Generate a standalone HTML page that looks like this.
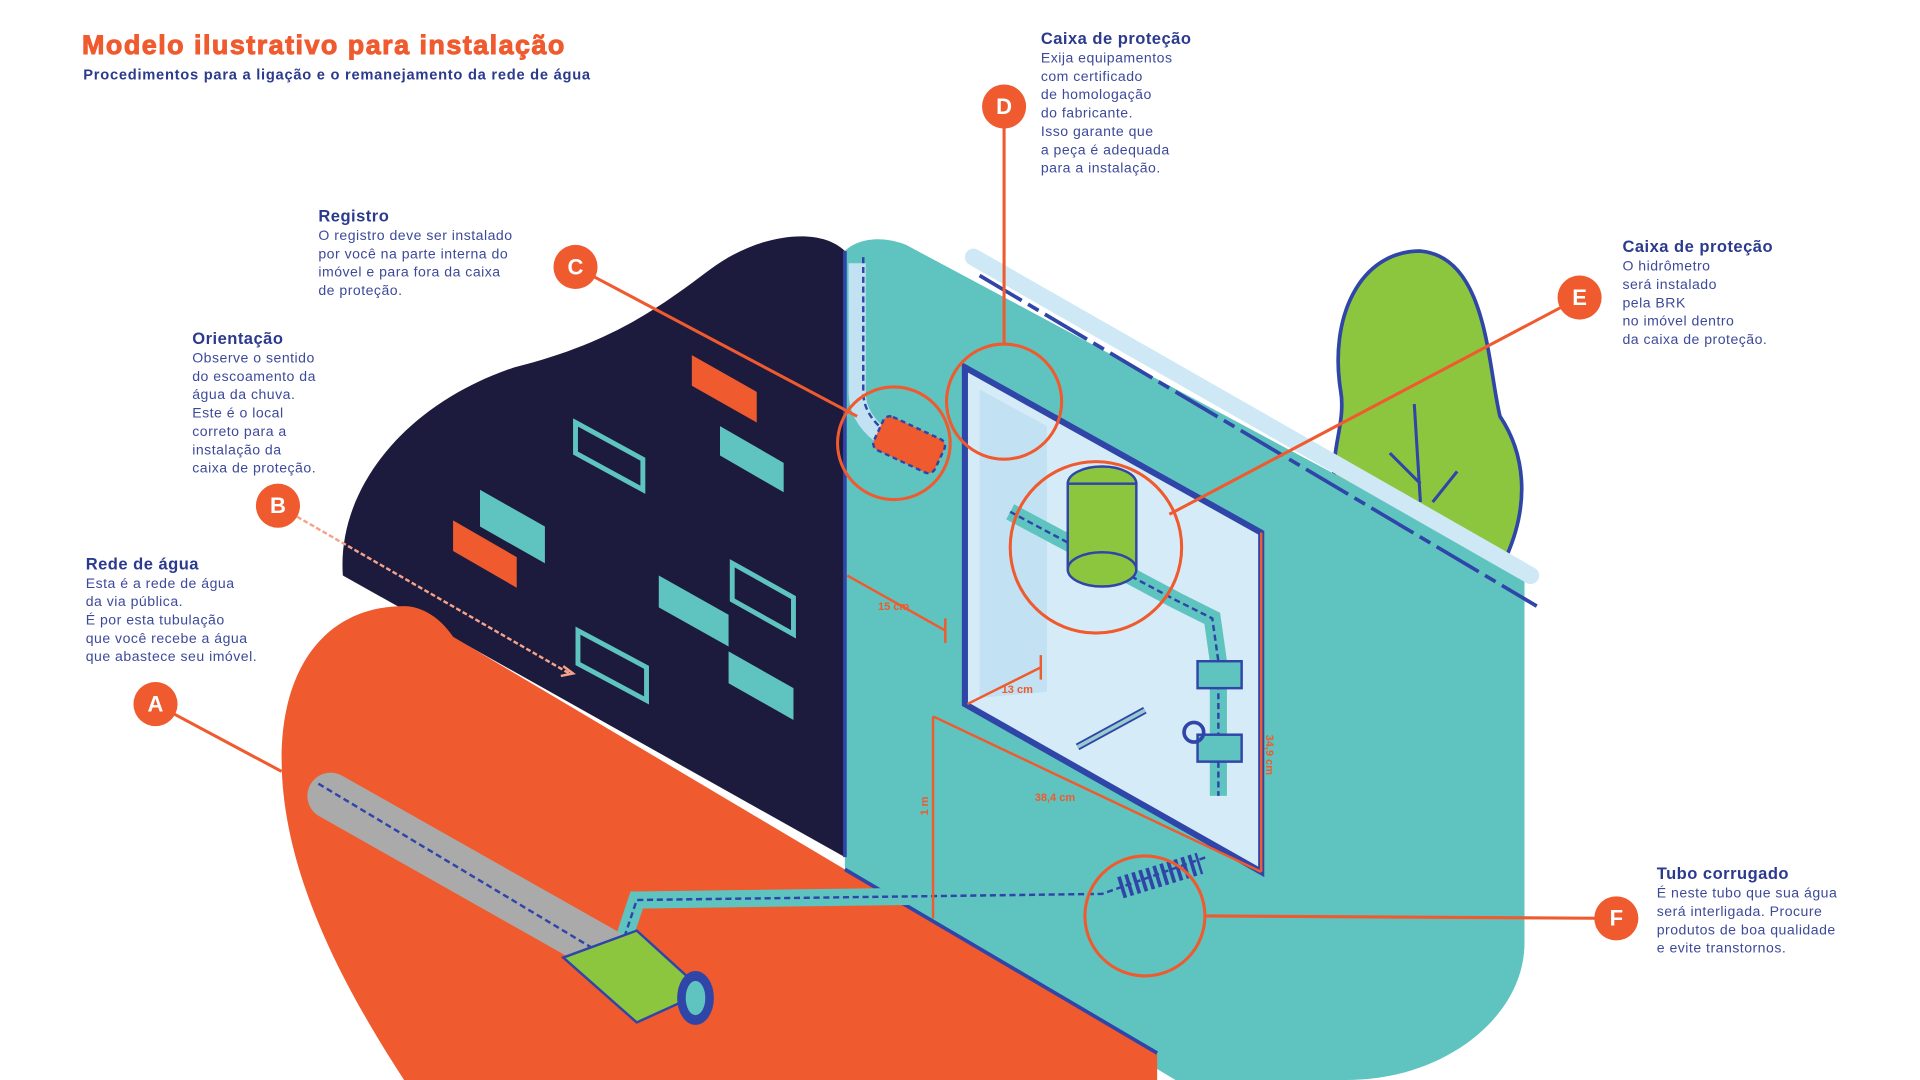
<!DOCTYPE html>
<html><head><meta charset="utf-8"><style>
html,body{margin:0;padding:0;background:#fff;width:1920px;height:1080px;overflow:hidden}
svg{display:block}
text{font-family:"Liberation Sans",sans-serif}
.h{fill:#2b3a8f;font-weight:bold;font-size:13.5px;letter-spacing:0.4px}
.t{fill:#3d4a9a;font-size:11.5px;letter-spacing:0.4px}
.lbl{fill:#fff;font-weight:bold;font-size:18px;text-anchor:middle}
.ln{stroke:#ef5a2e;stroke-width:2.5;fill:none}
.dash{stroke:#2f45a8;stroke-width:2;stroke-dasharray:5 3;fill:none}
</style></head><body>
<svg width="1920" height="1080" viewBox="0 0 1568 882" preserveAspectRatio="none">
<rect width="1568" height="882" fill="#fff"/>
<!-- title -->
<text x="67" y="44" fill="#ef5a2e" font-weight="bold" font-size="22" letter-spacing="1.2" stroke="#ef5a2e" stroke-width="0.8">Modelo ilustrativo para instalação</text>
<text x="68" y="65" fill="#2b3a8f" font-size="12" font-weight="bold" letter-spacing="0.6">Procedimentos para a ligação e o remanejamento da rede de água</text>

<!-- tree -->
<path d="M1160 205 C1110 205 1085 260 1095 320 C1100 350 1080 380 1095 410 L1230 455 C1250 410 1245 370 1225 340 C1215 300 1215 210 1160 205Z" fill="#8cc63f" stroke="#2f45a8" stroke-width="3"/>
<path d="M1155 330 L1160 410 M1135 370 L1160 395 M1190 385 L1170 410" stroke="#2f45a8" stroke-width="2.5" fill="none"/>

<!-- navy blob -->
<path d="M280 470 C275 400 330 330 420 300 C500 280 540 250 580 220 C620 190 670 185 690 205 L690 700 Z" fill="#1c1a3d"/>
<!-- teal wall -->
<path d="M690 205 C700 195 720 192 740 200 L1245 470 L1245 770 C1245 830 1180 882 1100 882 L960 882 L690 720 Z" fill="#5fc4bf"/>
<path d="M795 210 L1250 470" stroke="#cfe8f6" stroke-width="14" stroke-linecap="round"/>
<path d="M800 225 L1255 495" stroke="#2f45a8" stroke-width="3" stroke-dasharray="40 6 10 6"/>
<!-- orange ground -->
<path d="M330 495 C270 495 230 540 230 620 C230 720 290 820 330 882 L945 882 L945 860 L690 710 L370 520 C360 505 345 495 330 495Z" fill="#ef5a2e"/>
<path d="M690 710 L945 860" stroke="#2f45a8" stroke-width="3"/>
<path d="M690 205 L690 700" stroke="#2f45a8" stroke-width="3"/>

<!-- wall windows -->
<g stroke="#5fc4bf" stroke-width="4" fill="none">
<path d="M470 345 L525 375 L525 400 L470 370Z"/>
<path d="M598 460 L648 488 L648 518 L598 490Z"/>
<path d="M472 515 L528 545 L528 572 L472 542Z"/>
</g>
<g fill="#5fc4bf">
<path d="M588 348 L640 378 L640 402 L588 372Z"/>
<path d="M392 400 L445 430 L445 460 L392 430Z"/>
<path d="M538 470 L595 502 L595 528 L538 496Z"/>
<path d="M595 532 L648 562 L648 588 L595 558Z"/>
</g>
<g fill="#ef5a2e">
<path d="M565 290 L618 320 L618 345 L565 315Z"/>
<path d="M370 425 L422 455 L422 480 L370 450Z"/>
</g>

<!-- box -->
<path d="M788 300 L1030 435 L1030 712 L788 575Z" fill="#d5ecf8" stroke="#2f45a8" stroke-width="5"/>
<path d="M800 318 L855 348 L855 565 L800 570Z" fill="#c2e2f3"/>
<path d="M880 610 L935 580" stroke="#2f45a8" stroke-width="6"/>
<path d="M880 610 L935 580" stroke="#9cc" stroke-width="3"/>
<!-- meter pipes -->
<path d="M825 418 L960 490 L990 505 L995 540 L995 650" stroke="#5fc4bf" stroke-width="14" fill="none"/>
<path d="M825 418 L960 490 L990 505 L995 540 L995 650" stroke="#2f45a8" stroke-width="2" stroke-dasharray="5 3" fill="none"/>
<ellipse cx="900" cy="395" rx="28" ry="14" fill="#8cc63f" stroke="#2f45a8" stroke-width="2"/>
<rect x="872" y="395" width="56" height="70" fill="#8cc63f" stroke="#2f45a8" stroke-width="2"/>
<ellipse cx="900" cy="465" rx="28" ry="14" fill="#8cc63f" stroke="#2f45a8" stroke-width="2"/>
<rect x="978" y="540" width="36" height="22" fill="#5fc4bf" stroke="#2f45a8" stroke-width="2"/>
<rect x="978" y="600" width="36" height="22" fill="#5fc4bf" stroke="#2f45a8" stroke-width="2"/>
<circle cx="975" cy="598" r="8" fill="none" stroke="#2f45a8" stroke-width="3"/>

<!-- underground pipe -->
<path d="M510 765 L520 735 L900 730 L985 700" stroke="#5fc4bf" stroke-width="14" fill="none"/>
<path d="M510 765 L520 735 L900 730 L985 700" class="dash"/>
<path d="M915 725 L980 705" stroke="#2f45a8" stroke-width="18" stroke-dasharray="3 3"/>
<path d="M270 650 L500 780" stroke="#aaa" stroke-width="38" stroke-linecap="round"/>
<path d="M260 640 L510 790" class="dash"/>
<path d="M460 782 L520 760 L575 810 L520 835Z" fill="#8cc63f" stroke="#2f45a8" stroke-width="2"/>
<ellipse cx="568" cy="815" rx="15" ry="22" fill="#2f45a8"/>
<ellipse cx="568" cy="815" rx="8" ry="14" fill="#5fc4bf"/>

<!-- registro -->
<path d="M700 215 L700 320 C700 350 730 365 760 375" stroke="#c2e2f3" stroke-width="14" fill="none"/>
<path d="M705 210 L705 320 C705 345 730 360 760 372" class="dash"/>
<rect x="715" y="348" width="55" height="30" rx="6" fill="#ef5a2e" stroke="#2f45a8" stroke-width="2" stroke-dasharray="4 3" transform="rotate(25 742 363)"/>

<!-- dimensions -->
<g stroke="#ef5a2e" stroke-width="2" fill="none">
<path d="M692 470 L772 515 M772 505 L772 525"/>
<path d="M790 575 L850 545 M850 535 L850 555"/>
<path d="M762 585 L762 750"/>
<path d="M762 585 L1030 712"/>
<path d="M1030 435 L1030 712"/>
</g>
<g fill="#ef5a2e" font-size="9" font-weight="bold">
<text x="717" y="498">15 cm</text>
<text x="818" y="566">13 cm</text>
<text x="845" y="654">38,4 cm</text>
<text x="1034" y="600" transform="rotate(90 1034 600)">34,9 cm</text>
<text x="758" y="666" transform="rotate(-90 758 666)">1 m</text>
</g>

<!-- leader lines / circles -->
<path class="ln" d="M127 575 L230 630"/>
<path d="M227 413 L465 550" stroke="#f4a38a" stroke-width="2" stroke-dasharray="4 2" fill="none"/>
<path d="M460 544 L468 550 L458 552" stroke="#f4a38a" stroke-width="2" fill="none"/>
<path class="ln" d="M470 218 L700 340"/>
<path class="ln" d="M820 87 L820 280"/>
<path class="ln" d="M1290 243 L955 420"/>
<path class="ln" d="M1320 750 L985 748"/>
<circle class="ln" cx="730" cy="362" r="46"/>
<circle class="ln" cx="820" cy="328" r="47"/>
<circle class="ln" cx="895" cy="447" r="70"/>
<circle class="ln" cx="935" cy="748" r="49"/>

<g fill="#ef5a2e">
<circle cx="127" cy="575" r="18"/><circle cx="227" cy="413" r="18"/><circle cx="470" cy="218" r="18"/>
<circle cx="820" cy="87" r="18"/><circle cx="1290" cy="243" r="18"/><circle cx="1320" cy="750" r="18"/>
</g>
<text class="lbl" x="127" y="581">A</text><text class="lbl" x="227" y="419">B</text><text class="lbl" x="470" y="224">C</text>
<text class="lbl" x="820" y="93">D</text><text class="lbl" x="1290" y="249">E</text><text class="lbl" x="1320" y="756">F</text>

<!-- texts -->
<text class="h" x="850" y="36">Caixa de proteção</text>
<g class="t"><text x="850" y="51">Exija equipamentos</text><text x="850" y="66">com certificado</text><text x="850" y="81">de homologação</text><text x="850" y="96">do fabricante.</text><text x="850" y="111">Isso garante que</text><text x="850" y="126">a peça é adequada</text><text x="850" y="141">para a instalação.</text></g>

<text class="h" x="260" y="181">Registro</text>
<g class="t"><text x="260" y="196">O registro deve ser instalado</text><text x="260" y="211">por você na parte interna do</text><text x="260" y="226">imóvel e para fora da caixa</text><text x="260" y="241">de proteção.</text></g>

<text class="h" x="157" y="281">Orientação</text>
<g class="t"><text x="157" y="296">Observe o sentido</text><text x="157" y="311">do escoamento da</text><text x="157" y="326">água da chuva.</text><text x="157" y="341">Este é o local</text><text x="157" y="356">correto para a</text><text x="157" y="371">instalação da</text><text x="157" y="386">caixa de proteção.</text></g>

<text class="h" x="70" y="465">Rede de água</text>
<g class="t"><text x="70" y="480">Esta é a rede de água</text><text x="70" y="495">da via pública.</text><text x="70" y="510">É por esta tubulação</text><text x="70" y="525">que você recebe a água</text><text x="70" y="540">que abastece seu imóvel.</text></g>

<text class="h" x="1325" y="206">Caixa de proteção</text>
<g class="t"><text x="1325" y="221">O hidrômetro</text><text x="1325" y="236">será instalado</text><text x="1325" y="251">pela BRK</text><text x="1325" y="266">no imóvel dentro</text><text x="1325" y="281">da caixa de proteção.</text></g>

<text class="h" x="1353" y="718">Tubo corrugado</text>
<g class="t"><text x="1353" y="733">É neste tubo que sua água</text><text x="1353" y="748">será interligada. Procure</text><text x="1353" y="763">produtos de boa qualidade</text><text x="1353" y="778">e evite transtornos.</text></g>
</svg>
</body></html>
